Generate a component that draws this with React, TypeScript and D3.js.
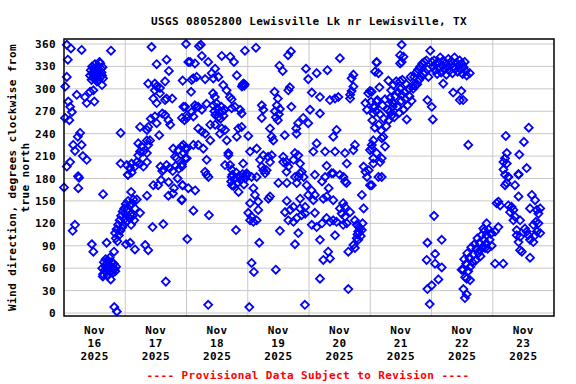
import React from "react";
import * as d3 from "d3";

// Wind direction (degrees clockwise from true north), [hour of day, value] per day
const nov16: [number, number][] = [
  [1.1,359],[2.7,354],[6.9,352],[18.4,351],[1.5,339],[1.1,316],[0.5,303],[14.9,305],
  [10.2,318],[10.5,325],[10.8,312],[11.0,330],[11.2,320],[11.4,315],[11.6,327],[11.8,322],[12.0,318],[12.1,333],[12.3,326],[12.5,313],[12.6,320],[12.8,329],[13.0,316],[13.1,323],[13.3,331],[13.4,318],[13.6,312],[13.8,325],[14.0,320],[14.2,334],[14.3,316],[14.5,327],[14.7,322],[14.9,318],[15.1,329],[15.3,314],[13.9,336],[12.9,310],
  [5.0,292],[8.2,289],[10.2,296],[11.5,298],[8.9,281],[11.9,283],[1.7,283],[2.4,276],[0.4,261],[3.1,269],[2.1,258],[6.3,241],[5.4,236],[3.6,225],[6.9,225],[4.3,217],[7.4,210],[2.4,202],[1.1,196],[8.9,205],[5.5,183],[5.9,181],[22.2,241],[22.2,200],[0,168],[5.6,167],[4.3,118],[3.4,110],[10.9,92],[11.5,82],[15.3,159],[16.7,94],
  [15.0,60],[15.3,52],[15.6,68],[15.9,57],[16.1,63],[16.3,72],[16.5,55],[16.7,66],[16.9,60],[17.1,50],[17.3,70],[17.5,58],[17.7,64],[17.9,74],[18.1,55],[18.3,62],[18.5,68],[18.7,57],[18.9,61],[19.2,54],[19.5,66],[19.8,59],[20.1,56],[20.4,62],
  [18.3,45],[15.2,49],[19.7,8],[20.7,2],[19.6,82],[20.0,107],
  [20.3,100],[20.6,112],[20.9,96],[21.2,118],[21.5,104],[21.8,124],[22.1,110],[22.4,130],[22.7,114],[23.0,136],[23.3,118],[23.6,140],[23.9,126],
];

const nov17: [number, number][] = [
  [0.6,198],[1.1,185],[1.9,194],[2.5,200],[3.8,196],[2.3,162],[1.0,185],[2.5,188],
  [0.2,146],[0.5,122],[0.8,138],[1.1,150],[1.4,128],[1.7,144],[2.0,132],[2.3,118],[2.6,146],[2.9,130],[3.2,152],[3.5,124],[3.8,140],
  [0.3,92],[1.9,94],[3.8,85],[4.5,152],[5.8,134],[8.5,157],[7.8,91],[9.0,84],[10.7,115],[14.9,119],[15.9,42],[11.0,171],[12.9,171],[16.9,157],[18.7,160],[19.1,167],[22.1,151],[22.5,171],[14.5,190],
  [10.3,356],[23.8,360],[12.3,333],[16.2,339],[17.1,324],
  [9.0,307],[11.6,307],[12.3,303],[13.6,301],[15.6,310],[11.6,298],[13.6,294],[22.5,311],
  [11.0,287],[12.3,281],[15.6,285],[16.2,287],[18.4,287],
  [23.5,276],[23.2,258],[22.8,276],[22.2,261],
  [14.5,267],[15.6,265],[16.9,258],[17.6,252],[10.0,260],[11.6,263],[12.3,254],
  [5.8,249],[8.5,245],[9.0,249],[13.3,238],
  [5.1,227],[6.4,223],[8.5,231],[9.0,225],[9.7,231],
  [5.8,216],[7.1,216],[8.5,214],[5.1,211],
  [18.8,220],[20.8,218],[22.1,223],[22.8,225],[19.5,209],[20.2,207],[23.5,207],[23.5,220],[22.9,214],[22.2,196],
  [4.5,202],[5.8,200],[7.1,196],[8.5,202],
  [13.8,196],[15.0,192],[16.2,198],[17.4,194],[18.6,190],[19.8,197],[21.0,193],[22.2,199],
  [14.0,178],[17.0,175],[20.5,180],[22.4,171],[22.2,152],
];

const nov18: [number, number][] = [
  [4.9,357],[1.4,336],[2.0,312],[2.7,314],[4.0,316],[1.8,296],[2.0,269],[4.0,276],[0.1,261],[2.7,263],[0.1,220],
  [0.7,167],[3.4,164],[2.7,137],[0.3,99],
  [5.6,359],[6.0,344],[13.8,344],[17.1,343],[18.6,336],[22.9,351],
  [0.7,336],[3.3,334],[8.5,336],[11.2,327],
  [7.3,313],[9.9,321],[10.5,314],[12.5,316],[19.7,318],
  [21.7,303],[22.0,305],[22.3,307],[22.6,304],[22.8,306],
  [14.4,305],[15.7,298],[10.4,294],[11.1,289],[17.0,289],[17.7,286],
  [3.3,278],[4.6,276],[6.0,272],[7.9,280],
  [10.5,278],[10.9,270],[11.3,265],[11.7,281],[12.1,274],[12.5,262],[12.9,268],[13.3,260],[13.7,276],[14.1,270],[14.5,264],[14.9,272],
  [17.7,274],[19.0,276],[21.0,272],[21.6,267],[0.1,265],
  [4.6,247],[6.0,243],[7.3,240],[9.3,252],[11.2,252],[13.8,247],[13.1,240],[15.1,245],[20.3,247],[21.6,249],[19.7,236],
  [9.3,231],[2.7,225],[4.6,225],[6.6,220],[15.8,231],[16.4,214],[0.1,207],
  [7.9,205],[7.3,189],[8.6,182],[16.4,211],[17.1,198],[17.7,192],[15.1,198],[22.2,200],[21.0,182],[23.6,187],[17.7,182],[7.9,185],
  [17.5,176],[18.0,185],[18.4,170],[19.0,180],[19.5,188],[20.0,174],[20.5,183],[21.2,178],[22.0,186],[22.5,172],[23.0,180],[23.5,184],
  [17.8,171],[20.4,162],[8.8,131],[19.4,111],[8.5,11],
];

const nov19: [number, number][] = [
  [0.2,237],[3.2,355],[0.6,8],
  [2.2,167],[2.8,158],[4.1,149],[0.9,147],[0.2,134],[4.1,138],[1.5,129],[2.2,122],[3.5,124],[0.9,124],
  [8.1,153],[8.7,156],[12.0,174],[15.3,174],[19.2,174],[15.3,150],
  [14.6,135],[16.6,138],[17.9,142],[15.9,124],[17.9,122],[19.2,127],[21.1,131],[20.5,140],[22.5,142],[22.5,133],
  [20.5,153],[23.1,171],[23.7,158],[21.9,182],[20.5,187],[19.9,182],
  [4.5,94],[1.5,67],[2.4,55],[11.0,58],[18.5,92],[19.8,107],[12.6,110],
  [15.8,345],[16.9,350],[12.4,331],[13.7,324],[22.8,327],[23.7,313],
  [10.5,296],[11.8,287],[16.5,302],[15.9,298],
  [5.5,278],[6.1,272],[5.5,261],
  [10.6,270],[11.0,262],[11.4,278],[11.8,258],[12.2,266],[12.6,273],
  [17.1,276],[21.7,261],[19.7,254],[19.0,247],[23.7,254],
  [8.7,247],[9.4,236],[10.0,231],[14.5,238],[19.1,240],
  [0.9,216],[3.5,220],[6.1,211],[8.0,209],[9.4,211],
  [13.9,209],[15.3,202],[18.5,214],[19.8,211],[17.9,205],
  [4.8,205],[5.5,196],[6.8,187],[6.1,191],[3.5,182],[8.7,202],[7.4,191],
  [13.9,202],[15.9,196],[15.2,189],[20.5,200],[21.2,189],[18.5,182],[1.5,182],[22.4,11],
];

const nov20: [number, number][] = [
  [1.7,216],[6.3,216],[10.2,216],[14.1,214],[18.0,225],[17.4,218],[23.9,218],[3.0,227],
  [9.5,236],[10.8,245],[1.1,295],[4.3,289],[8.2,285],[10.2,287],[11.5,289],
  [16.1,292],[16.7,297],[17.4,303],[16.1,287],[23.2,294],[23.9,297],[22.1,281],[22.7,272],[0.4,272],[4.3,267],
  [3.0,321],[7.2,325],[17.4,319],[16.7,314],[12.1,341],
  [6.9,197],[6.3,182],[9.5,187],[12.1,185],[13.5,182],[14.8,200],
  [21.4,196],[22.1,189],[22.7,182],[23.4,191],
  [2.3,185],[8.9,187],[14.1,176],[14.7,174],[5.1,176],[7.7,167],
  [5.6,153],[6.9,156],[9.5,151],[2.3,134],
  [1.1,118],[3.0,115],[5.1,120],[6.9,127],[8.2,122],[9.5,124],[10.8,122],
  [12.1,140],[13.4,147],[14.1,142],[12.8,133],[14.1,129],[16.1,135],[14.8,120],[13.4,118],
  [20.7,158],[21.4,140],[23.9,171],
  [18.0,124],[18.7,118],[20.0,113],[19.3,109],[20.7,111],
  [18.7,100],[19.3,98],[17.4,91],[18.0,87],[15.4,82],
  [7.5,82],[8.2,73],[5.6,71],[10.2,104],[4.3,98],[4.3,46],[15.4,32],
  [19.0,105],[19.6,115],[20.3,103],[21.0,120],
  [1.0,164],[2.3,158],[1.7,151],
];

const nov21: [number, number][] = [
  [0.6,225],[1.2,207],[1.2,231],[1.9,276],[2.5,283],[1.2,267],[1.9,323],[2.5,335],[1.2,200],[3.2,182],
  [12.3,359],[11.7,345],[13.0,343],[12.3,336],[11.7,334],[23.5,351],
  [2.5,336],[3.2,321],[7.1,311],[11.7,310],[3.6,302],[0.6,296],
  [16.8,300],[17.2,316],[17.6,304],[18.0,322],[18.4,306],[18.8,326],[19.2,312],[19.6,330],[20.0,316],[20.4,334],[20.8,320],[21.2,336],[21.6,322],[22.0,338],[22.4,326],[22.8,316],
  [7.8,270],[8.2,298],[8.6,282],[9.0,305],[9.4,262],[9.8,290],[10.2,310],[10.6,276],[11.0,295],[11.4,268],[11.8,300],[12.2,284],[12.6,312],[13.0,272],[13.4,296],[13.8,286],[14.2,306],[14.6,278],[15.0,300],[15.4,290],[15.8,316],[16.2,284],[16.6,304],[9.2,280],[12.4,292],
  [22.4,285],[14.3,259],
  [0.3,283],[0.8,258],[1.3,276],[1.8,248],[2.3,270],[2.8,285],[3.3,252],[3.8,266],[4.3,244],[4.8,278],[5.3,260],[5.8,286],[6.3,250],[6.8,272],[7.3,258],[7.8,288],[8.3,264],[8.8,276],
  [5.1,236],[4.5,234],[5.8,223],[0.6,220],[2.5,214],[4.5,207],[3.9,202],[4.5,182],[0.6,171],
  [23.3,12],[22.4,32],[22.1,71],[22.4,94],
];

const nov22: [number, number][] = [
  [0.1,336],[0.1,276],[0.5,259],
  [0.6,330],[1.0,338],[1.4,325],[1.8,333],[2.2,320],[2.6,336],[3.0,328],[3.4,342],[3.8,322],[4.2,331],[4.6,338],[5.0,326],[5.4,334],[5.8,319],[6.2,329],[6.6,340],[7.0,324],[7.4,332],[7.8,337],[8.2,321],[8.6,330],[9.0,342],[9.4,327],[9.8,335],[10.2,323],[10.6,331],[11.0,338],[11.4,326],[11.8,334],[12.2,320],[12.6,329],[13.0,336],[13.4,324],[13.8,318],
  [15.0,321],[4.6,307],[8.5,295],[11.7,297],[12.4,285],[11.1,285],[14.4,225],
  [0.1,37],[2.7,45],[4.0,61],[1.4,66],[1.4,79],[4.0,98],[1.0,130],
  [12.4,58],[12.8,72],[13.2,48],[13.6,66],[14.0,80],[14.4,56],[14.8,74],[15.2,62],[15.6,88],[16.0,68],[16.4,78],[16.8,92],[17.2,70],[17.6,86],[18.0,100],[18.4,80],[18.8,94],[19.2,76],[19.6,104],[20.0,88],[20.4,98],[20.8,110],[21.2,92],[21.6,104],[22.0,86],[22.4,112],[22.8,98],[23.2,106],[23.6,90],
  [12.5,32],[13.8,25],[13.1,20],[13.8,46],[15.1,44],[11.8,58],[15.1,73],
  [19.0,84],[21.0,87],[21.6,93],[20.3,113],[21.6,120],[23.5,107],
];

const nov23: [number, number][] = [
  [0.9,109],[2.2,115],[0.9,66],[4.1,66],[2.2,149],[1.5,147],[2.9,144],
  [4.8,185],[6.1,182],[10.1,185],[5.4,174],[4.8,171],[8.7,171],[10.1,156],
  [7.4,142],[6.1,144],[6.8,135],[8.1,138],[8.7,129],[8.1,124],[10.7,124],
  [9.4,111],[9.4,104],[10.7,102],[10.1,95],[11.4,82],[10.7,84],
  [12.6,113],[13.3,109],[13.9,104],[14.6,98],[15.9,95],[16.6,104],[17.3,109],[17.9,120],[18.6,107],[15.9,118],
  [15.3,158],[16.6,151],[14.6,140],[17.3,138],[18.6,140],[17.9,133],[14.6,74],[16.9,122],
  [14.1,248],[5.1,237],[12.2,229],[5.5,214],[4.8,207],[4.2,202],[5.5,200],[4.2,192],[6.1,182],[10.1,186],[13.3,194],[10.4,212],
];

const days = [nov16, nov17, nov18, nov19, nov20, nov21, nov22, nov23];
const dayLabels = ["16", "17", "18", "19", "20", "21", "22", "23"];
const monthLabel = "Nov";
const yearLabel = "2025";
const yTicks = [0, 30, 60, 90, 120, 150, 180, 210, 240, 270, 300, 330, 360];
const title = "USGS 08052800 Lewisville Lk nr Lewisville, TX";
const yTitle1 = "Wind direction, degrees clockwise from";
const yTitle2 = "true north";
const footer = "---- Provisional Data Subject to Revision ----";

export default function App() {
  const W = 576, H = 384;
  const left = 64, right = 554, top = 39, bottom = 316;
  const x = d3.scaleLinear().domain([0, 192]).range([left, right]);
  const y = d3.scaleLinear().domain([0, 360]).range([313, 44]);
  const points = days.flatMap((d, i) => d.map(([h, v]) => ({ t: i * 24 + h, v })));
  const font = "'DejaVu Sans Mono', monospace";
  const diamond = "M0,-4L4,0L0,4L-4,0Z";
  const textStyle = { fontFamily: font, fontWeight: 700, fontSize: 11, letterSpacing: 0.4 } as const;

  return (
    <svg width={W} height={H} style={{ position: "absolute", left: 0, top: 0, background: "#fff" }}>
      <rect x={0} y={0} width={W} height={H} fill="#fff" />
      <text x={309} y={25} textAnchor="middle" style={textStyle} fill="#000">{title}</text>
      {yTicks.map((t) => (
        <line key={"h" + t} x1={left} x2={right} y1={y(t)} y2={y(t)} stroke="#c8c8c8" strokeWidth={1} />
      ))}
      {d3.range(1, 8).map((i) => (
        <line key={"v" + i} x1={x(i * 24)} x2={x(i * 24)} y1={top} y2={bottom} stroke="#c8c8c8" strokeWidth={1} />
      ))}
      {yTicks.map((t) => (
        <text key={"yl" + t} x={56} y={y(t) + 4} textAnchor="end" style={textStyle} fill="#000">{t}</text>
      ))}
      {dayLabels.map((d, i) => (
        <g key={"xl" + d} style={textStyle} fill="#000">
          <text x={x(i * 24 + 12)} y={334} textAnchor="middle">{monthLabel}</text>
          <text x={x(i * 24 + 12)} y={347} textAnchor="middle">{d}</text>
          <text x={x(i * 24 + 12)} y={360} textAnchor="middle">{yearLabel}</text>
        </g>
      ))}
      <text transform={`translate(15.5,${(top + bottom) / 2}) rotate(-90)`} textAnchor="middle" style={textStyle} fill="#000">{yTitle1}</text>
      <text transform={`translate(29,${(top + bottom) / 2}) rotate(-90)`} textAnchor="middle" style={textStyle} fill="#000">{yTitle2}</text>
      <g>
        {points.map((p, i) => (
          <path key={i} d={diamond} transform={`translate(${x(p.t)},${y(p.v)})`} fill="none" stroke="#0000ff" strokeWidth={1.8} />
        ))}
      </g>
      <rect x={left} y={top} width={right - left} height={bottom - top} fill="none" stroke="#000" strokeWidth={1.5} />
      <text x={308} y={379} textAnchor="middle" style={textStyle} fill="#ff0000">{footer}</text>
    </svg>
  );
}
